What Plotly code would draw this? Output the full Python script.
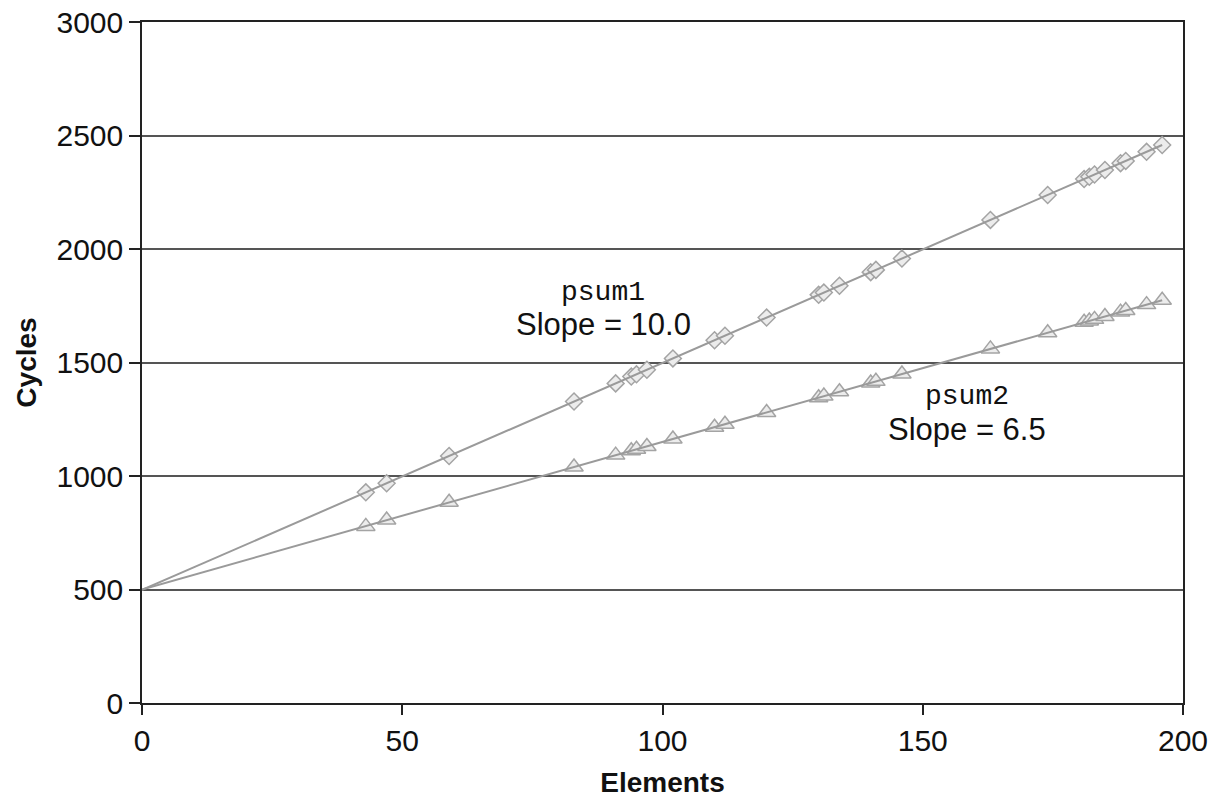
import numpy as np
import plotly.graph_objects as go

elements = [43, 47, 59, 83, 91, 94, 95, 97, 102, 110, 112, 120, 130, 131, 134,
            140, 141, 146, 163, 174, 181, 182, 183, 185, 188, 189, 193, 196]
psum1 = [928, 968, 1088, 1328, 1408, 1438, 1448, 1468, 1518, 1598, 1618, 1698,
         1798, 1808, 1838, 1898, 1908, 1958, 2128, 2238, 2308, 2318, 2328, 2348,
         2378, 2388, 2428, 2458]
psum2 = [778, 806, 884, 1040, 1092, 1111, 1118, 1130, 1163, 1215, 1228, 1280,
         1345, 1352, 1371, 1410, 1417, 1449, 1560, 1631, 1677, 1683, 1690, 1703,
         1722, 1729, 1755, 1774]
x_ticks = [0, 50, 100, 150, 200]
y_ticks = [0, 500, 1000, 1500, 2000, 2500, 3000]

FONT = "Liberation Sans, Arial, sans-serif"
MONO = "Liberation Mono, Courier New, monospace"
LINE_C = "#9a9a9a"
MK_FILL = "#ececec"
MK_EDGE = "#a4a4a4"

fig = go.Figure()

for ys, sym, sz in [(psum1, "diamond", 13), (psum2, "triangle-up", 16)]:
    fig.add_trace(go.Scatter(
        x=elements, y=ys, mode="markers",
        marker=dict(symbol=sym, size=sz, color=MK_FILL,
                    line=dict(color=MK_EDGE, width=1.5)),
        showlegend=False, hoverinfo="skip"))

xs = np.array(elements, dtype=float)
for ys in (psum1, psum2):
    slope, icpt = np.polyfit(xs, np.array(ys, dtype=float), 1)
    xl = np.array([0.0, xs.max()])
    fig.add_trace(go.Scatter(
        x=xl, y=icpt + slope * xl, mode="lines",
        line=dict(color=LINE_C, width=2),
        showlegend=False, hoverinfo="skip"))

annots = [
    (88.6, 1810, "psum1", MONO, 28),
    (88.6, 1668, "Slope = 10.0", FONT, 31),
    (158.5, 1350, "psum2", MONO, 28),
    (158.5, 1204, "Slope = 6.5", FONT, 31),
]
for ax_, ay_, txt, fam, fs in annots:
    fig.add_annotation(x=ax_, y=ay_, text=txt, showarrow=False,
                       xanchor="center", yanchor="middle",
                       font=dict(family=fam, size=fs, color="#111"))

fig.update_layout(
    width=1211, height=798,
    margin=dict(l=142, r=28, t=22, b=95),
    paper_bgcolor="white", plot_bgcolor="white",
    font=dict(family=FONT, size=30, color="#111"),
    xaxis=dict(range=[0, 200], tickvals=x_ticks, showgrid=False, zeroline=False,
               showline=True, linecolor="#222", linewidth=1.5, mirror=True,
               ticks="outside", ticklen=10, tickcolor="#222", tickwidth=1.5,
               tickfont=dict(size=30), automargin=False, ticklabeloverflow="allow",
               title=dict(text="<b>Elements</b>", font=dict(size=28), standoff=24)),
    yaxis=dict(range=[0, 3000], tickvals=y_ticks, showgrid=True,
               gridcolor="#555", gridwidth=1.6, zeroline=False,
               showline=True, linecolor="#222", linewidth=1.5, mirror=True,
               ticks="outside", ticklen=11, tickcolor="#222", tickwidth=1.5,
               tickfont=dict(size=30), automargin=False, ticklabeloverflow="allow",
               title=dict(text="<b>Cycles</b>", font=dict(size=28), standoff=12)),
)

fig.write_html("out.html", config={"displayModeBar": False},
               post_script="document.body.style.margin='0';document.body.style.overflow='hidden';")
